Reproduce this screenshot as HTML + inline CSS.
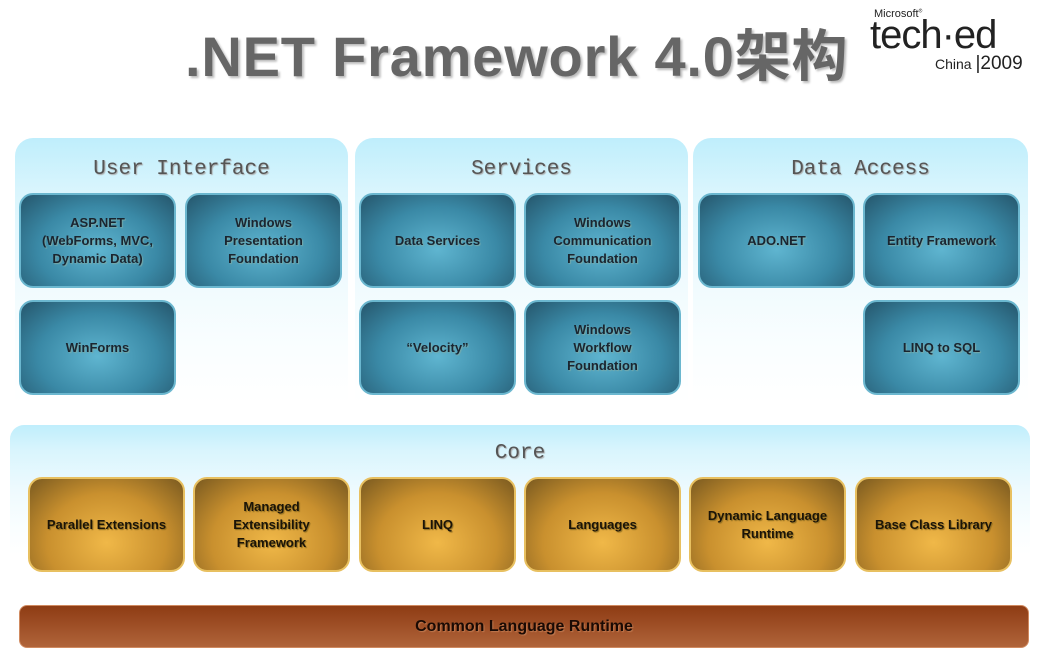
<!DOCTYPE html>
<html><head><meta charset="utf-8"><style>
*{margin:0;padding:0;box-sizing:border-box}
body{width:1042px;height:671px;background:#fff;position:relative;overflow:hidden;font-family:"Liberation Sans","Noto Sans CJK SC",sans-serif}
.title{position:absolute;left:185px;top:12px;font-size:56px;font-weight:bold;color:#666;text-shadow:2px 2px 2px #bbb;white-space:nowrap;letter-spacing:0.8px}
.panel{position:absolute;border-radius:18px 18px 0 0;background:linear-gradient(#bfeefc 0%,#d9f5fd 20%,#eefafe 50%,#fafeff 80%,#fff 100%)}
.ph{position:absolute;left:0;right:0;text-align:center;font-family:"Liberation Mono",monospace;font-size:21px;color:#555;text-shadow:1px 1px 1px #aaa}
.b{position:absolute;width:157px;height:95px;border-radius:14px;display:flex;align-items:center;justify-content:center;text-align:center;font-weight:bold;font-size:13px;line-height:18px;color:#1a2530;text-shadow:1px 1px 1px #7aa}
.blue{background:radial-gradient(ellipse at 50% 60%,#5fb5d0 0%,#3a89a6 55%,#25566c 100%);border:2px solid #6bb7cf}
.gold{background:radial-gradient(ellipse at 50% 70%,#f0b848 0%,#c9902e 55%,#7a5a20 100%);border:2px solid #e8c060;color:#1a1408;text-shadow:1px 1px 1px #8a6a20}
</style></head><body>
<div class="title">.NET Framework 4.0架构</div>
<div style="position:absolute;left:874px;top:8px;font-size:11px;color:#222">Microsoft<sup style="font-size:5px">®</sup></div>
<div style="position:absolute;left:870px;top:13px;font-size:40px;color:#222;letter-spacing:-1px">tech·ed</div>
<div style="position:absolute;left:935px;top:53px;font-size:14px;color:#222">China <span style="font-size:19px">|2009</span></div>

<div class="panel" style="left:15px;top:138px;width:333px;height:265px"><div class="ph" style="top:20px">User Interface</div></div>
<div class="panel" style="left:355px;top:138px;width:333px;height:265px"><div class="ph" style="top:20px">Services</div></div>
<div class="panel" style="left:693px;top:138px;width:335px;height:265px"><div class="ph" style="top:20px">Data Access</div></div>
<div class="panel" style="left:10px;top:425px;width:1020px;height:130px;border-radius:14px 14px 0 0"><div class="ph" style="top:17px">Core</div></div>

<div class="b blue" style="left:19px;top:193px">ASP.NET<br>(WebForms, MVC,<br>Dynamic Data)</div>
<div class="b blue" style="left:185px;top:193px">Windows<br>Presentation<br>Foundation</div>
<div class="b blue" style="left:19px;top:300px">WinForms</div>
<div class="b blue" style="left:359px;top:193px">Data Services</div>
<div class="b blue" style="left:524px;top:193px">Windows<br>Communication<br>Foundation</div>
<div class="b blue" style="left:359px;top:300px">“Velocity”</div>
<div class="b blue" style="left:524px;top:300px">Windows<br>Workflow<br>Foundation</div>
<div class="b blue" style="left:698px;top:193px">ADO.NET</div>
<div class="b blue" style="left:863px;top:193px">Entity Framework</div>
<div class="b blue" style="left:863px;top:300px">LINQ to SQL</div>

<div class="b gold" style="left:28px;top:477px">Parallel Extensions</div>
<div class="b gold" style="left:193px;top:477px">Managed<br>Extensibility<br>Framework</div>
<div class="b gold" style="left:359px;top:477px">LINQ</div>
<div class="b gold" style="left:524px;top:477px">Languages</div>
<div class="b gold" style="left:689px;top:477px">Dynamic Language<br>Runtime</div>
<div class="b gold" style="left:855px;top:477px">Base Class Library</div>

<div style="position:absolute;left:19px;top:605px;width:1010px;height:43px;border-radius:8px;background:linear-gradient(#8e3c14,#b0643a);border:1px solid #d08a60;display:flex;align-items:center;justify-content:center;font-weight:bold;font-size:16px;color:#1a0a04;text-shadow:1px 1px 1px #c07a50">Common Language Runtime</div>
</body></html>
